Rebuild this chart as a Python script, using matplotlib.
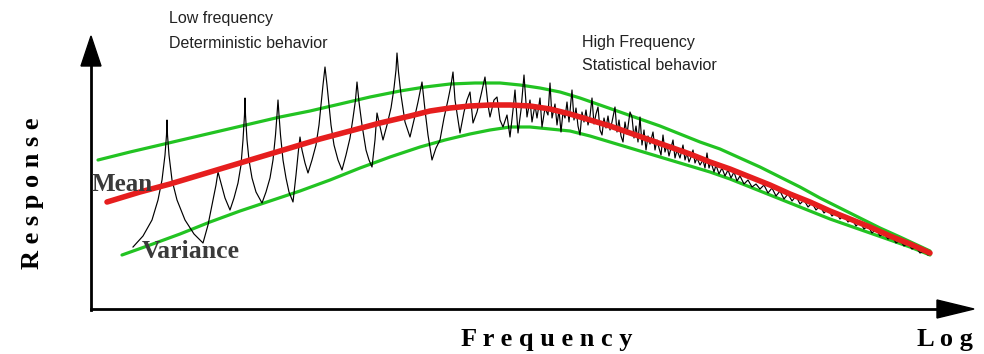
import matplotlib
matplotlib.use("Agg")
import matplotlib.pyplot as plt

# ---- data (pixel-like units: x to the right, y downward) ----
mean_x = [107, 140, 170, 200, 230, 260, 290, 320, 350, 380, 410, 430, 450, 470, 490,
          510, 530, 550, 570, 590, 610, 630, 650, 670, 690, 710, 730, 750, 770, 790,
          810, 830, 850, 870, 890, 910, 930]
mean_y = [202, 192, 184, 175, 166, 157, 148, 139, 131, 123, 116, 111, 108, 106, 105,
          105, 106, 109, 114, 120, 126, 133, 140, 147, 154, 162, 169, 177, 185, 194,
          202, 211, 219, 227, 236, 244, 253]

upper_x = [98, 130, 160, 190, 220, 250, 280, 310, 340, 370, 400, 425, 450, 475, 500,
           520, 540, 560, 580, 600, 620, 640, 660, 680, 700, 720, 740, 760, 780, 800,
           820, 840, 860, 880, 900, 915, 930]
upper_y = [160, 152, 145, 138, 131, 124, 117, 111, 104, 97, 91, 87, 84, 83, 83,
           85, 88, 92, 98, 105, 112, 119, 126, 134, 142, 149, 158, 167, 177, 187,
           198, 208, 218, 228, 237, 244, 251]

lower_x = [122, 150, 180, 210, 240, 270, 300, 330, 360, 390, 420, 445, 470, 490, 510,
           530, 550, 570, 590, 610, 630, 650, 670, 690, 710, 730, 750, 770, 790, 810,
           830, 850, 870, 890, 910, 930]
lower_y = [255, 245, 234, 222, 211, 201, 191, 180, 168, 157, 147, 140, 134, 130, 127,
           127, 129, 131, 136, 142, 148, 154, 160, 166, 172, 179, 187, 195, 203, 211,
           219, 226, 233, 240, 247, 255]

# black response: low-frequency resonances
low_x = [133, 143, 152, 158, 162, 165, 166.5, 167, 167.5, 169, 172, 177, 185, 194, 203,
         208, 213, 216, 218, 221, 225, 230, 234, 238, 241, 243, 244.5, 245, 245.5, 247,
         249, 252, 256, 262, 266, 270, 273, 275.5, 277, 278, 279, 280.5, 283, 286, 289,
         293, 296, 298.5, 300, 302, 305, 308, 312, 316, 319, 321, 323, 325, 327, 329,
         331, 334, 338, 342, 346, 350, 353, 355.5, 357, 359, 362, 366, 369, 372, 375,
         377, 379, 383, 387, 391, 394, 396, 397, 398.5, 401, 405, 410, 414, 418, 422,
         425, 428, 432, 436, 440, 444, 448, 451, 453, 455, 458, 460, 464, 467, 470,
         473, 477, 481, 485, 488, 490, 494, 497, 500]
low_y = [247, 236, 220, 200, 180, 155, 135, 120, 135, 155, 180, 200, 220, 234, 243,
         225, 200, 185, 172, 183, 198, 210, 198, 183, 165, 140, 115, 98, 115, 140,
         160, 178, 192, 203, 192, 178, 160, 135, 115, 100, 115, 135, 160, 178, 192,
         202, 175, 150, 137, 150, 163, 173, 160, 145, 125, 105, 85, 67, 85, 105,
         125, 145, 160, 170, 155, 138, 118, 100, 82, 102, 125, 150, 160, 167, 140,
         113, 122, 140, 125, 108, 88, 70, 53, 72, 95, 122, 137, 120, 102, 82,
         110, 135, 160, 148, 140, 118, 100, 85, 72, 100, 120, 133, 112, 100, 92,
         123, 112, 95, 77, 105, 117, 100, 97, 120]

# black response: high-frequency (statistical) part
high_x = [503, 507, 510, 513, 515, 518, 521, 524, 527, 530, 532, 535, 537, 540, 542,
          545, 548, 550, 552, 555, 557, 559, 561, 563, 565, 567, 569, 572, 574, 576,
          578, 580, 582, 584, 586, 588, 590, 592, 594, 596, 598, 600, 602, 604, 606,
          608, 610, 612, 615, 617, 619, 621, 623, 625, 627, 630, 632, 634, 636, 638,
          640, 642, 644, 646, 648, 650, 653, 655, 657, 659, 661, 663, 665, 667, 669,
          671, 673, 675, 677, 680, 683, 685, 687, 689, 691, 693, 695, 697, 700, 703,
          705, 707, 709, 711, 714, 716, 719, 722, 725, 728, 731, 734, 737, 740, 744,
          748, 752, 756, 760, 764, 768, 772, 776, 780, 784, 788, 792, 796, 800, 804,
          808, 812, 816, 820, 824, 828, 832, 836, 840, 844, 848, 852, 856, 860, 864,
          868, 872, 876, 880, 884, 888, 892, 896, 900, 904, 908, 912, 916, 920, 924,
          928]
high_y = [127, 115, 137, 110, 90, 133, 110, 75, 117, 100, 122, 105, 118, 98, 127,
          108, 115, 83, 118, 104, 125, 110, 132, 112, 118, 102, 122, 90, 120, 108,
          126, 135, 112, 122, 110, 125, 116, 98, 124, 114, 107, 130, 135, 118, 128,
          116, 130, 122, 107, 132, 120, 136, 142, 122, 134, 112, 117, 138, 126, 142,
          117, 145, 130, 150, 136, 144, 132, 150, 140, 148, 155, 135, 152, 145, 156,
          148, 140, 158, 150, 158, 145, 160, 153, 162, 157, 150, 163, 158, 165, 160,
          168, 153, 168, 162, 172, 165, 174, 168, 176, 170, 178, 172, 181, 176, 184,
          180, 187, 184, 189, 185, 193, 188, 196, 191, 199, 194, 201, 196, 204, 200,
          207, 203, 210, 206, 213, 209, 216, 212, 219, 215, 222, 219, 226, 222, 229,
          226, 233, 229, 236, 233, 239, 236, 243, 240, 246, 243, 249, 247, 253, 251,
          255]

# axis arrows
yaxis_x = [91, 91]
yaxis_y = [310, 60]
yhead_x = [81, 91, 101]
yhead_y = [66, 36, 66]
xaxis_x = [91, 940]
xaxis_y = [309, 309]
xhead_x = [937, 974, 937]
xhead_y = [300, 309, 318]

GREEN = "#22c322"
RED = "#e61e1e"

fig = plt.figure(figsize=(9.84, 3.54), dpi=100)
ax = fig.add_axes([0, 0, 1, 1])
ax.set_xlim(0, 984)
ax.set_ylim(354, 0)
ax.axis("off")

ax.plot(upper_x, upper_y, color=GREEN, lw=2.3, solid_capstyle="round",
        solid_joinstyle="round", zorder=2)
ax.plot(lower_x, lower_y, color=GREEN, lw=2.3, solid_capstyle="round",
        solid_joinstyle="round", zorder=2)
ax.plot(low_x + high_x, low_y + high_y, color="black", lw=0.85, zorder=3)
ax.plot(mean_x, mean_y, color=RED, lw=4.0, solid_capstyle="round",
        solid_joinstyle="round", zorder=4)

ax.plot(yaxis_x, yaxis_y, color="black", lw=2.0, zorder=5)
ax.fill(yhead_x, yhead_y, color="black", zorder=5)
ax.plot(xaxis_x, xaxis_y, color="black", lw=2.0, zorder=5)
ax.fill(xhead_x, xhead_y, color="black", zorder=5)

sans = "Liberation Sans"
serif = "Liberation Serif"
ax.text(169, 19, "Low frequency", family=sans, fontsize=11.5, color="#222222",
        ha="left", va="center")
ax.text(169, 43, "Deterministic behavior", family=sans, fontsize=11.5, color="#222222",
        ha="left", va="center")
ax.text(582, 42, "High Frequency", family=sans, fontsize=11.5, color="#222222",
        ha="left", va="center")
ax.text(582, 66, "Statistical behavior", family=sans, fontsize=11.5, color="#222222",
        ha="left", va="center")

ax.text(92, 191, "Mean", family=serif, fontweight="bold", fontsize=18,
        color="#3a3a3a", ha="left", va="baseline", zorder=6)
ax.text(142, 258, "Variance", family=serif, fontweight="bold", fontsize=18.5,
        color="#3a3a3a", ha="left", va="baseline", zorder=6)

ax.text(547, 346, "F r e q u e n c y", family=serif, fontweight="bold", fontsize=19,
        color="black", ha="center", va="baseline")
ax.text(973, 346, "L o g", family=serif, fontweight="bold", fontsize=19,
        color="black", ha="right", va="baseline")
ax.text(33, 193, "R e s p o n s e", family=serif, fontweight="bold", fontsize=19,
        color="black", ha="center", va="center", rotation=90)

fig.savefig("out.png", dpi=100)
